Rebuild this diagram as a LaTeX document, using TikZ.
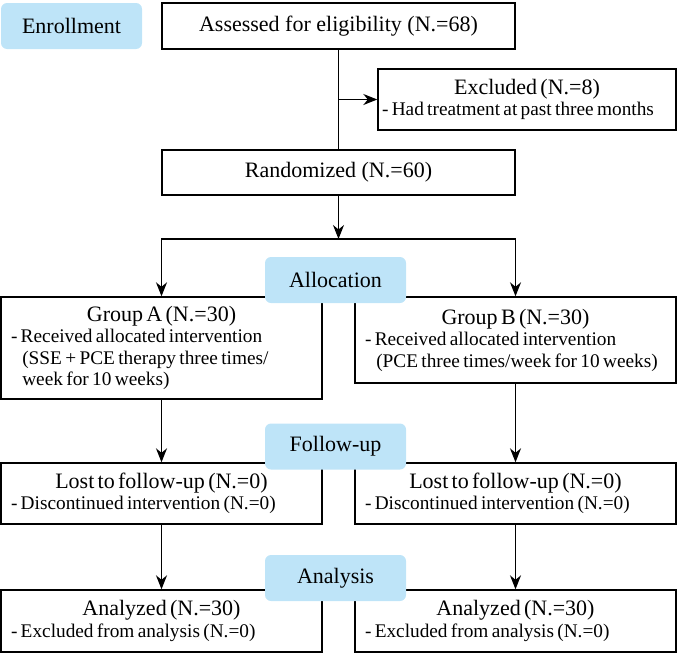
\documentclass[tikz,border=0pt]{standalone}
\usepackage{fontspec}
\setmainfont{Liberation Serif}
\usetikzlibrary{arrows.meta}
\definecolor{stageblue}{RGB}{190,228,248}
\newcommand{\ttlfont}{\fontsize{22}{24}\selectfont}
\newcommand{\dtlfont}{\fontsize{19.3}{21.5}\selectfont}
\newcommand{\boxttl}[1]{{\centering\ttlfont #1\par}}
\newcommand{\boxdtl}[1]{{\raggedright\dtlfont\hangindent=11.3pt\hangafter=1 #1\par}}

\begin{document}
\begin{tikzpicture}[x=1pt,y=-1pt,
	stage/.style={fill=stageblue, rounded corners=6pt, minimum width=141pt, minimum height=46pt, inner sep=0pt, font=\ttlfont},
	flowbox/.style={draw, line width=1.4pt, inner xsep=10pt, inner ysep=0pt, minimum width=321pt, text width=301pt},
	arr/.style={line width=1.2pt, -{Stealth[length=14pt,width=11pt,inset=4.5pt]}}]
	\useasboundingbox (0,0) rectangle (677,653);
	% enrollment
	\node[draw, line width=1.4pt, minimum width=353pt, minimum height=46pt, font=\ttlfont] (assess) at (338.5,26) {Assessed for eligibility (N.=68)};
	\node[flowbox, inner xsep=4pt, minimum width=298pt, text width=290pt, minimum height=61pt] (excl) at (527,99.5)
		{\boxttl{Excluded (N.=8)}\boxdtl{- Had treatment at past three months}};
	\node[draw, line width=1.4pt, minimum width=353pt, minimum height=45pt, font=\ttlfont] (rand) at (338.5,172.5) {Randomized (N.=60)};
	\coordinate (split) at (338.5,239);
	% allocation
	\node[flowbox, minimum height=102pt] (grpA) at (161.5,348)
		{\boxttl{Group A (N.=30)}\boxdtl{- Received allocated intervention\newline (SSE + PCE therapy three times/\newline week for 10 weeks)}};
	\node[flowbox, minimum height=86pt] (grpB) at (515.5,340)
		{\boxttl{Group B (N.=30)}\boxdtl{- Received allocated intervention\newline (PCE three times/week for 10 weeks)}};
	% follow-up
	\node[flowbox, minimum height=61pt] (lostA) at (161.5,493.5)
		{\boxttl{Lost to follow-up (N.=0)}\boxdtl{- Discontinued intervention (N.=0)}};
	\node[flowbox, minimum height=61pt] (lostB) at (515.5,493.5)
		{\boxttl{Lost to follow-up (N.=0)}\boxdtl{- Discontinued intervention (N.=0)}};
	% analysis
	\node[flowbox, minimum height=62pt] (anA) at (161.5,621)
		{\boxttl{Analyzed (N.=30)}\boxdtl{- Excluded from analysis (N.=0)}};
	\node[flowbox, minimum height=62pt] (anB) at (515.5,621)
		{\boxttl{Analyzed (N.=30)}\boxdtl{- Excluded from analysis (N.=0)}};
	% connectors
	\draw[line width=1.2pt] (assess.south) -- (rand.north);
	\draw[arr] (assess.south |- excl.west) -- (excl.west);
	\draw[arr] (rand.south) -- (split);
	\draw[arr] (split) -| (grpA.north);
	\draw[arr] (split) -| (grpB.north);
	\draw[arr] (grpA.south) -- (lostA.north);
	\draw[arr] (grpB.south) -- (lostB.north);
	\draw[arr] (lostA.south) -- (anA.north);
	\draw[arr] (lostB.south) -- (anB.north);
	% stage labels
	\node[stage] (enroll) at (71.5,26) {Enrollment};
	\node[stage] (alloc) at (335.5,280) {Allocation};
	\node[stage] (follow) at (335.5,446.5) {Follow-up};
	\node[stage] (anlys) at (335.5,578) {Analysis};
\end{tikzpicture}
\end{document}
